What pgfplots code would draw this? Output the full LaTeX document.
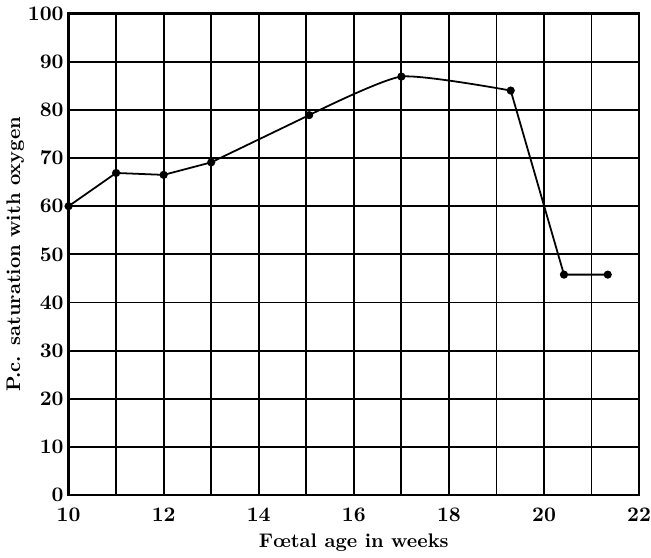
\documentclass[border=0pt]{standalone}
\usepackage{pgfplots}
\pgfplotsset{compat=1.18}
\begin{document}
\begin{tikzpicture}
\begin{axis}[
  scale only axis,
  width=289.5pt, height=244.5pt,
  xmin=10, xmax=22, ymin=0, ymax=100,
  xtick={10,11,...,22},
  xticklabels={10,,12,,14,,16,,18,,20,,22},
  ytick={0,10,...,100},
  grid=major,
  major grid style={black, line width=0.9pt},
  axis line style={black, line width=1.2pt},
  major tick length=0pt,
  ticklabel style={font=\fontsize{10.5}{12}\selectfont\bfseries},
  xticklabel style={yshift=-3pt, inner xsep=0pt},
  yticklabel style={xshift=1pt},
  xlabel={\bfseries F\oe tal age in weeks},
  ylabel={\bfseries P.c. saturation with oxygen},
  label style={font=\fontsize{10}{12}\selectfont},
  xlabel style={yshift=1pt},
  ylabel style={yshift=-5pt},
  /pgf/number format/assume math mode=true,
  clip=false,
]
\addplot[black, line width=0.9pt, mark=*, mark size=1.6pt]
  coordinates {(10,60) (11,66.9) (12,66.5) (13,69.1) (15.06,78.9)};
\addplot[black, line width=0.9pt, smooth, tension=0.35]
  coordinates {(15.06,78.9) (17,86.9) (19.3,84.0)};
\addplot[black, line width=0.9pt, only marks, mark=*, mark size=1.6pt]
  coordinates {(17,86.9)};
\addplot[black, line width=0.9pt, mark=*, mark size=1.6pt]
  coordinates {(19.3,84.0) (20.42,45.8) (21.34,45.8)};
\end{axis}
\end{tikzpicture}
\end{document}
